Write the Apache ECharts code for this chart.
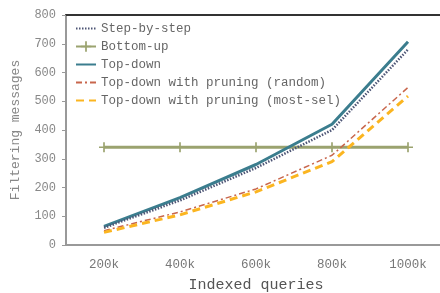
<!DOCTYPE html>
<html><head><meta charset="utf-8">
<script src="https://cdn.jsdelivr.net/npm/echarts@6/dist/echarts.min.js"></script>
<style>html,body{margin:0;padding:0;background:#fff}#c{width:440px;height:293px}</style>
</head><body><div id="c"></div>
<script>
const categories = ['200k','400k','600k','800k','1000k'];
const stepByStep = [60, 155, 268, 400, 680];
const bottomUp = [340, 340, 340, 340, 340];
const topDown = [65, 165, 280, 420, 707];
const pruningRandom = [50, 115, 195, 312, 548];
const pruningMostSel = [44, 105, 185, 290, 518];
const yTicks = [0, 100, 200, 300, 400, 500, 600, 700, 800];
const seriesNames = ['Step-by-step','Bottom-up','Top-down','Top-down with pruning (random)','Top-down with pruning (most-sel)'];

const font = 'Liberation Mono';
const plus = 'path://M-1,-6 L1,-6 L1,-1 L6,-1 L6,1 L1,1 L1,6 L-1,6 L-1,1 L-6,1 L-6,-1 L-1,-1 Z';
const chart = echarts.init(document.getElementById('c'), null, {renderer:'canvas'});
chart.setOption({
  animation:false,
  grid:{left:66, right:-6, top:15, bottom:48, outerBoundsMode:'none', containLabel:false},
  legend:{
    left:70, top:17, orient:'vertical', itemGap:5, itemWidth:20, itemHeight:13,
    textStyle:{fontFamily:font, fontSize:12.5, color:'#666'},
    data: seriesNames.map(n => n === 'Bottom-up' ? {name:n} : {name:n, itemStyle:{opacity:0}})
  },
  xAxis:[{
    type:'category', data:categories, boundaryGap:true,
    name:'Indexed queries', nameLocation:'middle', nameGap:33,
    nameTextStyle:{fontFamily:font, fontSize:15, color:'#555'},
    axisLine:{lineStyle:{color:'#999', width:2}},
    axisTick:{lineStyle:{color:'#999'}, length:5, inside:true},
    axisLabel:{fontFamily:font, fontSize:12.5, color:'#777', margin:13}
  },{
    type:'category', data:categories, position:'top',
    axisLine:{lineStyle:{color:'#333', width:2}},
    axisTick:{show:false}, axisLabel:{show:false}
  }],
  yAxis:{
    type:'value', min:0, max:800, interval:100,
    name:'Filtering messages', nameLocation:'middle', nameGap:44,
    nameTextStyle:{fontFamily:font, fontSize:13, color:'#888'},
    axisLine:{show:true, lineStyle:{color:'#999', width:2}},
    axisTick:{show:true, length:4, lineStyle:{color:'#999'}},
    axisLabel:{fontFamily:font, fontSize:12, color:'#888', margin:10,
      customValues: yTicks},
    splitLine:{show:false}
  },
  series:[
    {name:'Step-by-step', type:'line', data:stepByStep, symbol:'none',
     lineStyle:{color:'#4d5575', width:2.5, type:[1.5,1.5]}, itemStyle:{color:'#4d5575'}, z:4},
    {name:'Bottom-up', type:'line', data:bottomUp, symbol:plus, symbolSize:10,
     lineStyle:{color:'#9ba36f', width:3}, itemStyle:{color:'#9ba36f'}, z:2},
    {name:'Top-down', type:'line', data:topDown, symbol:'none',
     lineStyle:{color:'#3b7d8e', width:3}, itemStyle:{color:'#3b7d8e'}, z:3},
    {name:'Top-down with pruning (random)', type:'line', data:pruningRandom, symbol:'none',
     lineStyle:{color:'#c8664c', width:1.5, type:[6,3,2,3]}, itemStyle:{color:'#c8664c'}, z:3},
    {name:'Top-down with pruning (most-sel)', type:'line', data:pruningMostSel, symbol:'none',
     lineStyle:{color:'#fbb520', width:3, type:[8,5]}, itemStyle:{color:'#fbb520'}, z:3}
  ]
});
</script></body></html>
